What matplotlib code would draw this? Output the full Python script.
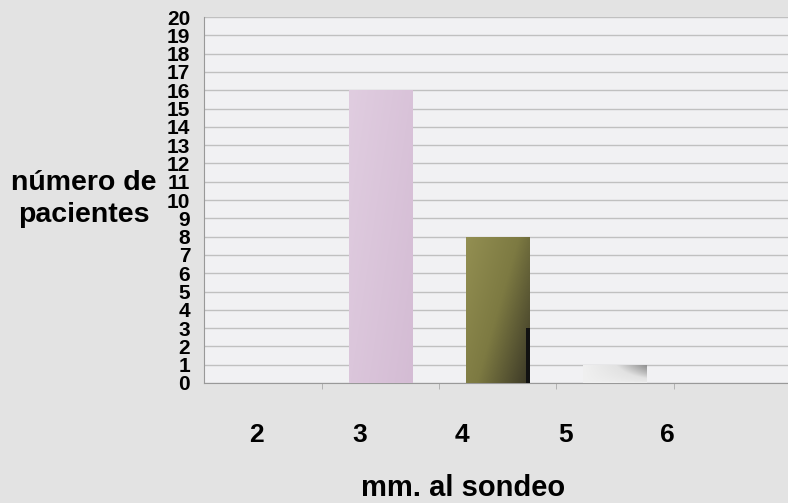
import numpy as np
import matplotlib.pyplot as plt
from matplotlib.colors import LinearSegmentedColormap

# data
categories = ["2", "3", "4", "5", "6"]
pacientes = [0, 16, 8, 1, 0]
extra_line = 3  # thin black bar next to "4"
y_ticks = list(range(0, 21))

plt.rcParams["font.family"] = ["Liberation Sans", "DejaVu Sans"]
plt.rcParams["font.weight"] = "bold"

fig = plt.figure(figsize=(7.88, 5.03), dpi=100)
fig.patch.set_facecolor("#e3e3e3")
ax = fig.add_axes([0.259, 0.2386, 0.745, 0.7274])
ax.set_facecolor("#f1f1f3")

x = np.arange(len(categories))
width = 0.54
bars = ax.bar(x, pacientes, width=width, color="#dac6da", zorder=3)

# gradient fills (diagonal light -> dark)
grad_maps = {
    1: LinearSegmentedColormap.from_list("pink", ["#e0cde0", "#d4bcd4"]),
    2: LinearSegmentedColormap.from_list("olive", ["#938f52", "#7d7a42", "#3a3726"]),
    3: LinearSegmentedColormap.from_list("grey", ["#f0f0f0", "#e2e2e2", "#8a8a8a"]),
}
gy, gx = np.mgrid[0:1:100j, 0:1:100j]
for i, cmap in grad_maps.items():
    b = bars[i]
    bx, by = b.get_x(), b.get_y()
    bw, bh = b.get_width(), b.get_height()
    if i == 3:
        g = gx * (1 - gy) ** 0.5
    else:
        g = 0.6 * gx + 0.4 * gy
    im = ax.imshow(g, cmap=cmap, extent=[bx, bx + bw, by, by + bh],
                   origin="upper", aspect="auto", zorder=4)
    im.set_clip_path(b)

ax.bar(x[2] + width / 2 - 0.01, extra_line, width=0.03, color="#111111", zorder=5)

ax.set_xlim(-0.5, len(categories) - 0.5)
ax.set_ylim(0, 20)
ax.set_yticks(y_ticks)
ax.set_yticklabels([str(t) for t in y_ticks], fontsize=15, fontweight="bold")
ax.yaxis.set_tick_params(length=0, pad=10)
ax.grid(axis="y", color="#c0c0c0", linewidth=1.0, zorder=1)

# category labels sit a bit left of the bars, as in the original
label_pos = np.arange(len(categories)) * 0.875 - 0.05
ax.set_xticks(label_pos)
ax.set_xticklabels(categories, fontsize=19, fontweight="bold")
ax.xaxis.set_tick_params(length=0, pad=29)
ax.set_xticks(x + 0.5, minor=True)
ax.tick_params(axis="x", which="minor", length=4, color="#aaaaaa")

for side in ["top", "right"]:
    ax.spines[side].set_visible(False)
ax.spines["left"].set_color("#999999")
ax.spines["bottom"].set_color("#999999")

fig.text(0.588, 0.030, "mm. al sondeo", fontsize=21, fontweight="bold",
         ha="center", va="center")
fig.text(0.106, 0.605, "número de\npacientes", fontsize=20.5, fontweight="bold",
         ha="center", va="center", linespacing=1.3)

fig.savefig("out.png", dpi=100, facecolor=fig.get_facecolor())
